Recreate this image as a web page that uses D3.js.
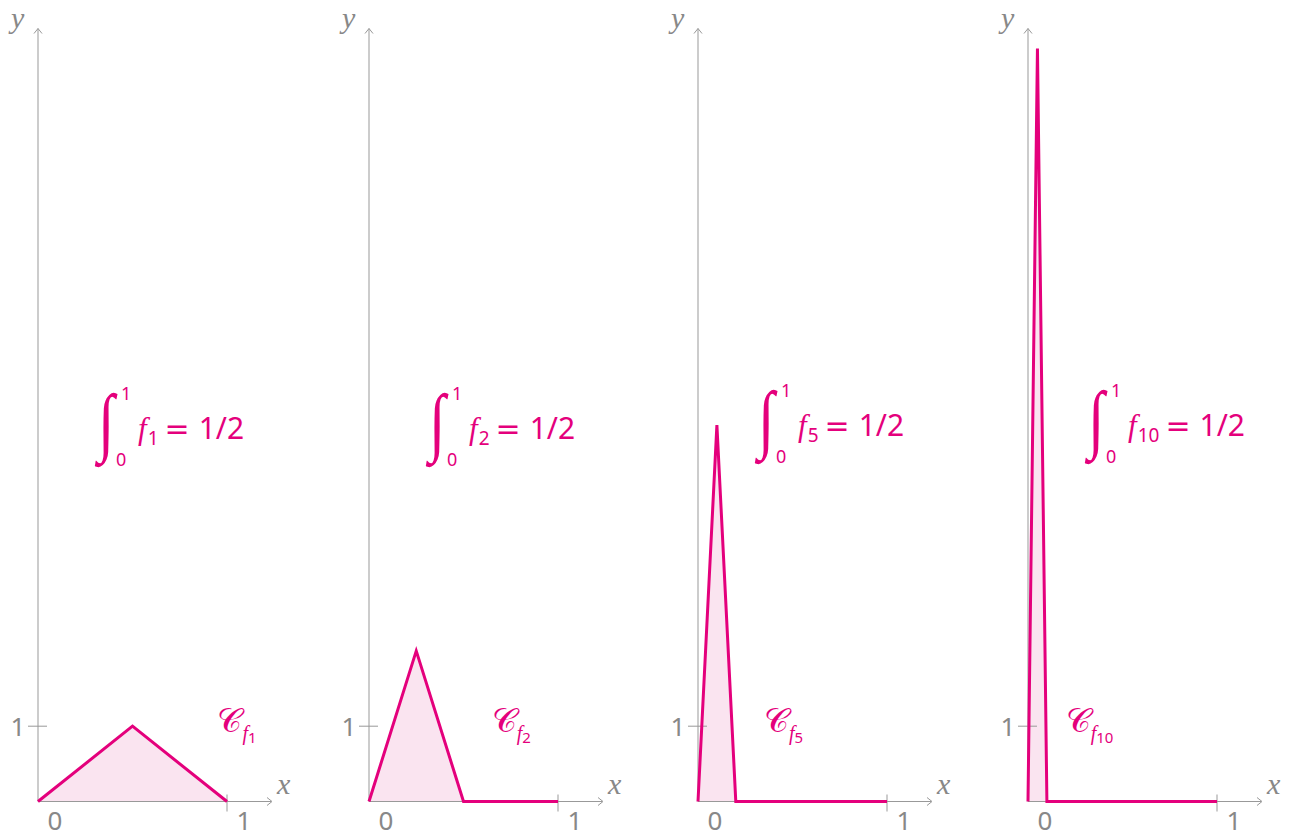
<!DOCTYPE html>
<html>
<head>
<meta charset="utf-8">
<script src="https://cdn.jsdelivr.net/npm/d3@7"></script>
<style>
  body { margin: 0; background: #fff; }
  svg { display: block; }
  .ax { stroke: #999; stroke-width: 1; fill: none; }
  .lab { fill: #888; font-family: "Noto Sans", sans-serif; font-size: 26px; }
  .var { fill: #888; font-family: "Liberation Serif", serif; font-style: italic; font-size: 30px; }
  .pk { fill: #e4007c; }
</style>
</head>
<body>
<div id="chart"></div>
<script>
// f_n : triangle on [0, 1/n] with peak n at 1/(2n), then 0 up to 1
const ns = [1, 2, 5, 10];
const peakX = [0.5, 0.25, 0.1, 0.05];
const peakY = [1, 2, 5, 10];
const baseEnd = [1, 0.5, 0.2, 0.1];
const integralText = ["1/2", "1/2", "1/2", "1/2"];
const curveLabelX = [0.96, 0.66, 0.36, 0.21];   // where the C_f label sits (x units)
const xTicks = [1];
const yTicks = [1];

const width = 1291, height = 834;
const pink = "#e4007c", fillPink = "#fae4f0";

const svg = d3.select("#chart").append("svg")
    .attr("width", width)
    .attr("height", height);

let panelX = d3.scaleOrdinal().domain(ns).range([38, 369, 698, 1028]);
let originY = 801.5;

let x = d3.scaleLinear().domain([0, 1]).range([0, 189]);
let y = d3.scaleLinear().domain([0, 1]).range([0, -75.3]);

ns.forEach((n, i) => {
    let g = svg.append("g").attr("transform", `translate(${panelX(n)},${originY})`);

    let pts = [[0, 0], [peakX[i], peakY[i]], [baseEnd[i], 0]];
    if (baseEnd[i] < 1) pts.push([1, 0]);

    // shaded area under the triangle
    g.append("path")
        .attr("d", d3.area().x(d => x(d[0])).y0(y(0)).y1(d => y(d[1]))(pts.slice(0, 3)))
        .attr("fill", fillPink);

    // axes
    g.append("line").attr("class", "ax")
        .attr("x1", 0).attr("y1", 0).attr("x2", 233).attr("y2", 0);
    g.append("path").attr("class", "ax")
        .attr("d", "M229,-4 L234,0 L229,4");
    g.append("line").attr("class", "ax")
        .attr("x1", 0).attr("y1", 0).attr("x2", 0).attr("y2", -773);
    g.append("path").attr("class", "ax")
        .attr("d", "M-4,-768 L0,-773 L4,-768");

    xTicks.forEach(t => {
        g.append("line").attr("class", "ax")
            .attr("x1", x(t)).attr("x2", x(t)).attr("y1", -7).attr("y2", 10);
        g.append("text").attr("class", "lab")
            .attr("x", x(t) + 17).attr("y", 28)
            .attr("text-anchor", "middle").text(t);
    });
    g.append("text").attr("class", "lab")
        .attr("x", 17).attr("y", 28).attr("text-anchor", "middle").text("0");
    yTicks.forEach(t => {
        g.append("line").attr("class", "ax")
            .attr("x1", -10).attr("x2", 9).attr("y1", y(t)).attr("y2", y(t));
        g.append("text").attr("class", "lab")
            .attr("x", -20).attr("y", y(t) + 10)
            .attr("text-anchor", "middle").text(t);
    });
    g.append("text").attr("class", "var")
        .attr("x", 239).attr("y", -8).text("x");
    g.append("text").attr("class", "var")
        .attr("x", -27).attr("y", -774).text("y");

    // the function graph
    g.append("path")
        .attr("d", d3.line().x(d => x(d[0])).y(d => y(d[1]))(pts))
        .attr("fill", "none")
        .attr("stroke", pink)
        .attr("stroke-width", 3)
        .attr("stroke-linejoin", "miter");

    // curve label C_{f_n}
    let cl = g.append("text").attr("class", "pk")
        .attr("x", x(curveLabelX[i]) - 2).attr("y", -70)
        .attr("font-family", "Liberation Serif, serif");
    cl.append("tspan").attr("font-size", 34).text("𝒞");
    cl.append("tspan").attr("font-size", 20).attr("font-style", "italic").attr("dy", 8).text("f");
    cl.append("tspan").attr("font-size", 15).attr("font-family", "Noto Sans").attr("dy", 3).text(n);

    // integral annotation
    let ig = g.append("g").attr("transform", `translate(57, ${-373 - (i > 1 ? 3 : 0)})`);
    ig.append("text").attr("class", "pk")
        .attr("transform", "translate(3,18) scale(0.75,0.95)")
        .attr("font-family", "Liberation Serif").attr("font-size", 80)
        .text("∫");
    ig.append("text").attr("class", "pk")
        .attr("x", 26).attr("y", -29).attr("font-family", "Noto Sans").attr("font-size", 18).text("1");
    ig.append("text").attr("class", "pk")
        .attr("x", 21).attr("y", 37).attr("font-family", "Noto Sans").attr("font-size", 18).text("0");
    let t = ig.append("text").attr("class", "pk").attr("x", 43).attr("y", 10);
    t.append("tspan").attr("font-family", "Liberation Serif").attr("font-style", "italic").attr("font-size", 31).text("f");
    t.append("tspan").attr("font-family", "Noto Sans").attr("font-size", 19).attr("dy", 6).attr("dx", 1).text(n);
    t.append("tspan").attr("font-family", "DejaVu Sans").attr("font-size", 30).attr("dy", -6).attr("dx", 6).text("=");
    t.append("tspan").attr("font-family", "Noto Sans").attr("font-size", 30).attr("dx", 9).text(integralText[i]);
});
</script>
</body>
</html>
